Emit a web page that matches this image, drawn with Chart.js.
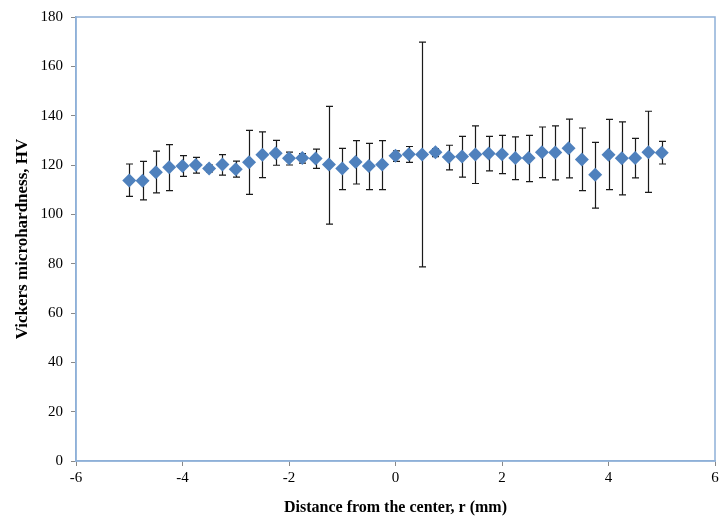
<!DOCTYPE html>
<html>
<head>
<meta charset="utf-8">
<script src="https://cdn.jsdelivr.net/npm/chart.js@4.4.0/dist/chart.umd.min.js"></script>
<style>
  html, body { margin: 0; padding: 0; background: #fff; }
  #wrap { width: 722px; height: 521px; position: relative; }
</style>
</head>
<body>
<div id="wrap"><canvas id="chart"></canvas></div>
<script>
// distance from the center (mm)
const distances = [
  -5, -4.75, -4.5, -4.25, -4, -3.75, -3.5, -3.25, -3, -2.75, -2.5, -2.25, -2, -1.75,
  -1.5, -1.25, -1, -0.75, -0.5, -0.25, 0, 0.25, 0.5, 0.75, 1, 1.25, 1.5, 1.75, 2,
  2.25, 2.5, 2.75, 3, 3.25, 3.5, 3.75, 4, 4.25, 4.5, 4.75, 5
];
// mean hardness (HV)
const hardness = [
  113.7, 113.6, 117.1, 119.1, 119.6, 120.0, 118.6, 120.2, 118.3, 121.1, 124.2, 124.8, 122.7, 122.8,
  122.6, 120.2, 118.6, 121.2, 119.6, 120.2, 123.8, 124.4, 124.3, 125.2, 123.2, 123.4, 124.3, 124.7, 124.4,
  122.8, 122.8, 125.2, 125.1, 126.8, 122.2, 116.0, 124.2, 122.7, 122.8, 125.2, 125.0
];
// error bar ends
const errHigh = [
  120.4, 121.5, 125.6, 128.3, 123.8, 123.1, 120.0, 124.2, 121.6, 134.0, 133.4, 130.0, 125.2, 124.6,
  126.4, 143.8, 126.7, 129.9, 128.8, 129.9, 125.7, 127.5, 169.8, 126.6, 128.0, 131.6, 135.9, 131.6, 132.0,
  131.4, 132.0, 135.4, 135.9, 138.6, 135.0, 129.2, 138.5, 137.5, 130.8, 141.8, 129.6
];
const errLow = [
  107.3, 105.9, 108.7, 109.6, 115.4, 116.7, 117.2, 115.9, 115.1, 108.1, 114.9, 119.9, 120.0, 120.8,
  118.6, 96.0, 110.0, 112.3, 110.0, 110.0, 121.5, 121.1, 78.7, 123.4, 118.0, 115.1, 112.5, 117.6, 116.5,
  114.1, 113.3, 114.9, 114.0, 114.8, 109.6, 102.5, 110.0, 107.9, 114.8, 108.9, 120.4
];

const xTitle = 'Distance from the center, r (mm)';
const yTitle = 'Vickers microhardness, HV';

const serif = 'Liberation Serif, Times New Roman, serif';

// error bars + box outline, drawn with the chart's own scales
const errorBars = {
  id: 'errorBars',
  beforeDatasetsDraw(chart) {
    const { ctx, scales: { x, y } } = chart;
    ctx.save();
    ctx.strokeStyle = '#1a1a1a';
    ctx.lineWidth = 1.2;
    distances.forEach((d, i) => {
      const px = Math.round(x.getPixelForValue(d)) + 0.5;
      const yTop = y.getPixelForValue(errHigh[i]);
      const yBot = y.getPixelForValue(errLow[i]);
      ctx.beginPath();
      ctx.moveTo(px, yTop); ctx.lineTo(px, yBot);
      ctx.moveTo(px - 3.5, yTop); ctx.lineTo(px + 3.5, yTop);
      ctx.moveTo(px - 3.5, yBot); ctx.lineTo(px + 3.5, yBot);
      ctx.stroke();
    });
    ctx.restore();
  },
  afterDraw(chart) {
    const { ctx, chartArea: a } = chart;
    ctx.save();
    ctx.strokeStyle = '#8eb0d8';
    ctx.lineWidth = 1.5;
    ctx.strokeRect(a.left, a.top, a.right - a.left, a.bottom - a.top);
    ctx.restore();
  }
};

new Chart(document.getElementById('chart'), {
  type: 'scatter',
  data: {
    datasets: [{
      data: distances.map((d, i) => ({ x: d, y: hardness[i] })),
      pointStyle: 'rectRot',
      pointRadius: 7,
      pointHoverRadius: 7,
      backgroundColor: '#4f81bd',
      borderColor: '#4f81bd',
      borderWidth: 0
    }]
  },
  options: {
    responsive: true,
    maintainAspectRatio: false,
    animation: false,
    layout: { padding: { top: 12, right: 6, left: 0, bottom: 0 } },
    plugins: { legend: { display: false }, tooltip: { enabled: false } },
    scales: {
      x: {
        type: 'linear', min: -6, max: 6,
        afterFit: s => { s.height = 60; },
        ticks: { stepSize: 2, color: '#000', padding: 3, font: { family: serif, size: 15 } },
        grid: { drawOnChartArea: false, drawTicks: true, tickLength: 5, color: '#888' },
        border: { color: '#8eb0d8', width: 1.5 },
        title: { display: true, text: xTitle, color: '#000', padding: { top: 2 },
                 font: { family: serif, size: 16, weight: 'bold' } }
      },
      y: {
        min: 0, max: 180,
        afterFit: s => { s.width = 76; },
        ticks: { stepSize: 20, color: '#000', padding: 8, font: { family: serif, size: 15 } },
        grid: { drawOnChartArea: false, drawTicks: true, tickLength: 5, color: '#888' },
        border: { color: '#8eb0d8', width: 1.5 },
        title: { display: true, text: yTitle, color: '#000', padding: { top: 12, bottom: 4 },
                 font: { family: serif, size: 17, weight: 'bold' } }
      }
    }
  },
  plugins: [errorBars]
});
</script>
</body>
</html>
